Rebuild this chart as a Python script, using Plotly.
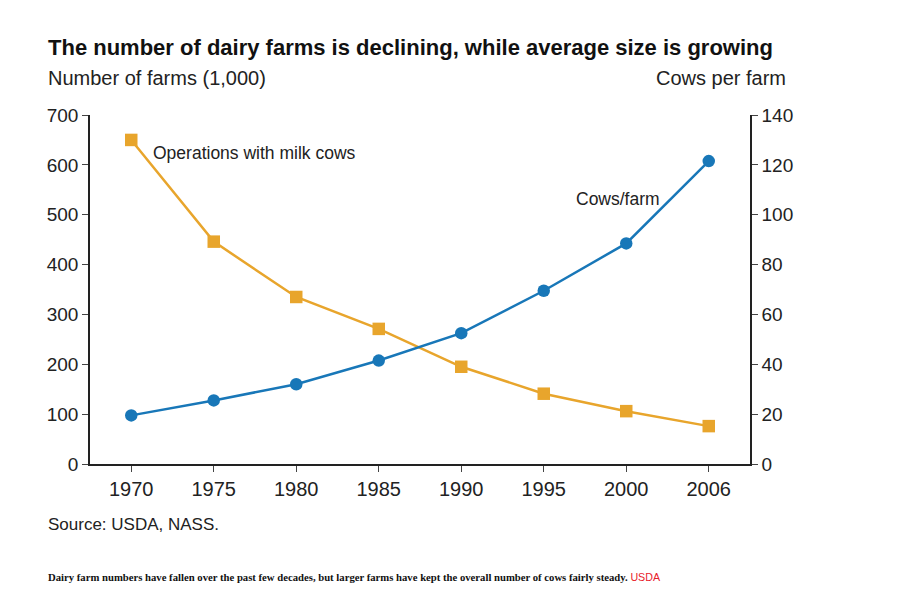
import plotly.graph_objects as go

years = ["1970", "1975", "1980", "1985", "1990", "1995", "2000", "2006"]
farms_thousands = [650, 446, 335, 271, 195, 141, 106, 76]
cows_per_farm = [19.5, 25.5, 32, 41.5, 52.5, 69.5, 88.5, 121.5]

left_ticks = [0, 100, 200, 300, 400, 500, 600, 700]
right_ticks = [0, 20, 40, 60, 80, 100, 120, 140]

ORANGE = "#E8A52C"
BLUE = "#1877B8"
FONT = "Liberation Sans, Arial, sans-serif"

# page offset (body margin) compensation
OFF = 8
# plot area in page pixels
L, R, T, B = 90, 750, 115, 464
W, H = 914 - OFF, 599 - OFF
PW, PH = R - L, B - T


def px(x):
    return (x - L) / PW


def py(y):
    return (B - y) / PH


fig = go.Figure()
fig.add_trace(go.Scatter(
    x=years, y=farms_thousands, mode="lines+markers",
    line=dict(color=ORANGE, width=2.5),
    marker=dict(symbol="square", size=12.5, color=ORANGE),
    name="Operations with milk cows", yaxis="y",
))
fig.add_trace(go.Scatter(
    x=years, y=cows_per_farm, mode="lines+markers",
    line=dict(color=BLUE, width=2.5),
    marker=dict(symbol="circle", size=12.5, color=BLUE),
    name="Cows/farm", yaxis="y2",
))

axis_common = dict(
    showline=True, linecolor="#222", linewidth=1.5,
    ticks="outside", ticklen=6, tickcolor="#444", tickwidth=1,
    showgrid=False, zeroline=False,
)

fig.update_layout(
    width=W, height=H,
    margin=dict(l=L - OFF, r=914 - R, t=T - OFF, b=599 - B),
    paper_bgcolor="white", plot_bgcolor="white",
    showlegend=False,
    xaxis=dict(type="category", range=[-0.5, 7.5], **axis_common, ticklabelstandoff=0,
               tickfont=dict(family=FONT, size=20, color="#222")),
    yaxis=dict(range=[0, 700], tickvals=left_ticks, **axis_common,
               tickfont=dict(family=FONT, size=19, color="#222")),
    yaxis2=dict(range=[0, 140], tickvals=right_ticks, overlaying="y", side="right",
                **axis_common, tickfont=dict(family=FONT, size=19, color="#222")),
)

annots = [
    dict(text="<b>The number of dairy farms is declining, while average size is growing</b>",
         x=px(46), y=py(48), xanchor="left", yanchor="middle",
         font=dict(family=FONT, size=22, color="#111")),
    dict(text="Number of farms (1,000)", x=px(46), y=py(78), xanchor="left", yanchor="middle",
         font=dict(family=FONT, size=20, color="#222")),
    dict(text="Cows per farm", x=px(788), y=py(78), xanchor="right", yanchor="middle",
         font=dict(family=FONT, size=20, color="#222")),
    dict(text="Operations with milk cows", x=px(151), y=py(153), xanchor="left", yanchor="middle",
         font=dict(family=FONT, size=17.5, color="#222")),
    dict(text="Cows/farm", x=px(574), y=py(199), xanchor="left", yanchor="middle",
         font=dict(family=FONT, size=17.5, color="#222")),
    dict(text="Source: USDA, NASS.", x=px(46), y=py(524), xanchor="left", yanchor="middle",
         font=dict(family=FONT, size=17, color="#222")),
    dict(text="<b>Dairy farm numbers have fallen over the past few decades, but larger farms have kept the overall number of cows fairly steady.</b> "
              "<span style='font-family:Liberation Sans, Arial, sans-serif;color:#E8202A'>USDA</span>",
         x=px(46), y=py(577), xanchor="left", yanchor="middle",
         font=dict(family="Liberation Serif, Times New Roman, serif", size=10.7, color="#111")),
]
for a in annots:
    a.update(xref="paper", yref="paper", showarrow=False)
    fig.add_annotation(**a)

fig.write_html("out.html")
